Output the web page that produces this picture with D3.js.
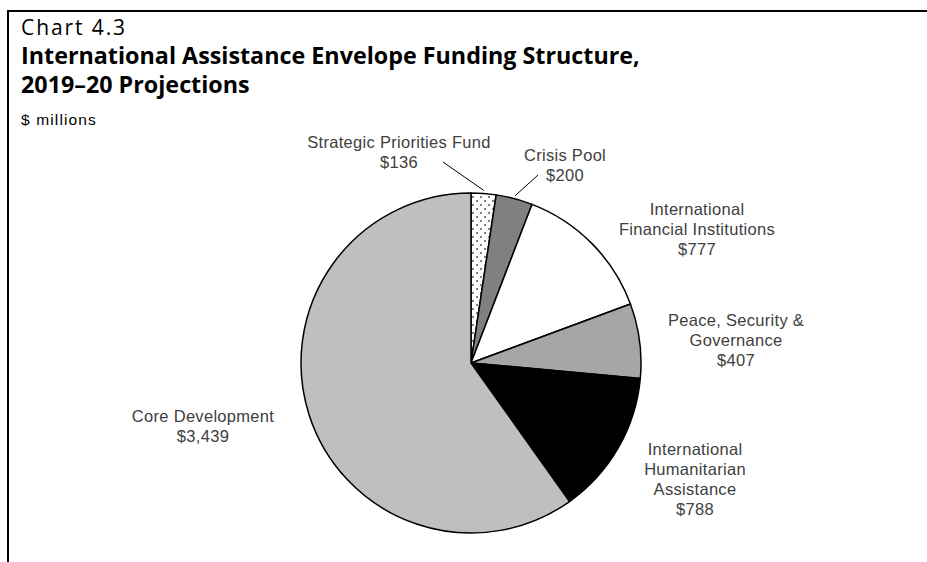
<!DOCTYPE html>
<html>
<head>
<meta charset="utf-8">
<script src="https://cdn.jsdelivr.net/npm/d3@7"></script>
<style>
  html, body { margin: 0; padding: 0; background: #fff; }
  svg { display: block; }
</style>
</head>
<body>
<svg id="chart" width="927" height="562"></svg>
<script>
// ---- Data ----
const categories = [
  "Strategic Priorities Fund",
  "Crisis Pool",
  "International Financial Institutions",
  "Peace, Security & Governance",
  "International Humanitarian Assistance",
  "Core Development"
];
const values = [136, 200, 777, 407, 788, 3439];
const valueLabels = ["$136", "$200", "$777", "$407", "$788", "$3,439"];
const labelLines = [
  ["Strategic Priorities Fund"],
  ["Crisis Pool"],
  ["International", "Financial Institutions"],
  ["Peace, Security &", "Governance"],
  ["International", "Humanitarian", "Assistance"],
  ["Core Development"]
];

// ---- Layout / style (not data) ----
const W = 927, H = 562;
const cx = 471, cy = 363, R = 170;
const fills = ["url(#dots)", "#808080", "#ffffff", "#a6a6a6", "#000000", "#bfbfbf"];
// label anchor (center x, first baseline) relative to pie center
const labelPos = [
  [-72, -215], [94, -202], [226, -148], [265, -37], [224, 92], [-268, 59]
];
// leader-line outer ends relative to pie center
const leaderEnds = [[-28, -201], [67, -188], null, null, null, null];
const lineH = 20;

const svg = d3.select("#chart");

// pattern for Strategic Priorities Fund
const defs = svg.append("defs");
const pat = defs.append("pattern").attr("id", "dots")
  .attr("patternUnits", "userSpaceOnUse").attr("width", 8).attr("height", 8);
pat.append("rect").attr("width", 8).attr("height", 8).attr("fill", "#fff");
pat.append("rect").attr("x", 1).attr("y", 1).attr("width", 2).attr("height", 2).attr("fill", "#808080");
pat.append("rect").attr("x", 5).attr("y", 5).attr("width", 2).attr("height", 2).attr("fill", "#808080");

// frame (top and left rules)
svg.append("line").attr("x1", 7).attr("x2", W).attr("y1", 11).attr("y2", 11)
  .attr("stroke", "#000").attr("stroke-width", 2);
svg.append("line").attr("x1", 8).attr("x2", 8).attr("y1", 10).attr("y2", H)
  .attr("stroke", "#000").attr("stroke-width", 2);

// titles
const titleFont = "'Open Sans', 'DejaVu Sans', sans-serif";
function fitSpacing(sel, target) {
  const w = sel.node().getComputedTextLength();
  const n = sel.text().length;
  sel.attr("letter-spacing", (target - w) / n);
}
function fitText(sel, target) {
  const w = sel.node().getComputedTextLength();
  const fs = parseFloat(sel.attr("font-size"));
  sel.attr("font-size", fs * target / w);
  return fs * target / w;
}
const t0 = svg.append("text").attr("x", 21).attr("y", 35)
  .attr("font-family", titleFont).attr("font-size", 21).attr("fill", "#000")
  .text("Chart 4.3");
fitSpacing(t0, 106);
const t1 = svg.append("text").attr("x", 21).attr("y", 64)
  .attr("font-family", titleFont).attr("font-weight", "bold").attr("font-size", 22).attr("fill", "#000")
  .text("International Assistance Envelope Funding Structure,");
const tfs = fitText(t1, 619);
svg.append("text").attr("x", 21).attr("y", 93)
  .attr("font-family", titleFont).attr("font-weight", "bold").attr("font-size", tfs).attr("fill", "#000")
  .text("2019–20 Projections");
const tm = svg.append("text").attr("x", 21).attr("y", 125)
  .attr("font-family", "'Liberation Sans', Arial, sans-serif").attr("font-size", 15.5)
  .attr("fill", "#000")
  .text("$ millions");
fitSpacing(tm, 76);

// pie
const pie = d3.pie().value(d => d).sort(null).startAngle(0).endAngle(2 * Math.PI);
const arcs = pie(values);
const arc = d3.arc().innerRadius(0).outerRadius(R);
const g = svg.append("g").attr("transform", `translate(${cx},${cy})`);
g.selectAll("path.slice").data(arcs).join("path")
  .attr("class", "slice")
  .attr("d", arc)
  .attr("fill", (d, i) => fills[i])
  .attr("stroke", "#000")
  .attr("stroke-width", 1.5)
  .attr("stroke-linejoin", "round");

// leader lines
arcs.forEach((d, i) => {
  if (!leaderEnds[i]) return;
  const a = (d.startAngle + d.endAngle) / 2;
  const r0 = R + 3;
  g.append("line")
    .attr("x1", Math.sin(a) * r0).attr("y1", -Math.cos(a) * r0)
    .attr("x2", leaderEnds[i][0]).attr("y2", leaderEnds[i][1])
    .attr("stroke", "#000").attr("stroke-width", 1);
});

// labels
arcs.forEach((d, i) => {
  const lines = labelLines[i].concat([valueLabels[i]]);
  const t = g.append("text")
    .attr("text-anchor", "middle")
    .attr("font-family", "'Liberation Sans', Arial, sans-serif")
    .attr("font-size", 16.5)
    .attr("letter-spacing", 0.3)
    .attr("fill", "#404040");
  lines.forEach((ln, k) => {
    t.append("tspan").attr("x", labelPos[i][0]).attr("y", labelPos[i][1] + k * lineH).text(ln);
  });
});
</script>
</body>
</html>
